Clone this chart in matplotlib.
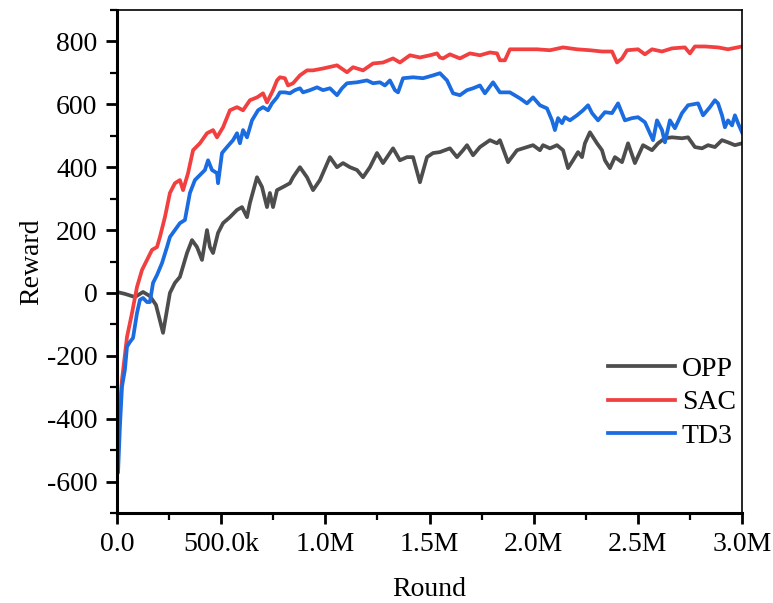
import numpy as np
import matplotlib
matplotlib.use("Agg")
import matplotlib.pyplot as plt
from matplotlib.ticker import MultipleLocator, FixedLocator, FixedFormatter

# ---- data (x in thousands of rounds, y = reward) ----
opp_x = [0, 38, 86, 125, 158, 187, 221, 254, 278, 302, 336, 360, 384, 408, 432, 446, 461, 485, 509,
         542, 576, 600, 624, 638, 672, 696, 720, 734, 749, 768, 797, 830, 845, 878, 912, 941, 974,
         1022, 1056, 1085, 1118, 1152, 1181, 1214, 1248, 1277, 1325, 1358, 1392, 1421, 1454, 1488,
         1517, 1550, 1598, 1632, 1661, 1680, 1709, 1742, 1790, 1824, 1838, 1877, 1920, 1968, 1997,
         2030, 2045, 2078, 2112, 2141, 2165, 2189, 2213, 2232, 2246, 2270, 2304, 2328, 2342, 2366,
         2390, 2424, 2453, 2486, 2525, 2568, 2597, 2630, 2664, 2712, 2741, 2774, 2808, 2837, 2870,
         2904, 2933, 2966, 3000]
opp_y = [3, -3, -13, 3, -10, -38, -127, 0, 32, 51, 127, 168, 146, 105, 200, 146, 127, 191, 222,
         241, 264, 273, 241, 286, 368, 337, 273, 318, 273, 327, 337, 349, 368, 400, 368, 327, 359,
         432, 400, 413, 400, 391, 368, 400, 445, 413, 460, 422, 432, 432, 352, 432,
         445, 448, 460, 432, 454, 470, 438, 464, 486, 476, 486, 416, 454, 464, 470,
         454, 470, 460, 470, 454, 397, 422, 448, 432, 476, 511, 476, 454, 422, 397,
         432, 416, 476, 413, 470, 454, 476, 492, 495, 492, 495, 464, 460, 470, 464,
         486, 479, 470, 476]

sac_x = [0, 5, 24, 48, 72, 96, 120, 144, 168, 192, 206, 230, 254, 278, 302, 317, 341, 365, 398,
         432, 461, 480, 509, 542, 576, 605, 638, 672, 701, 720, 749, 768, 782, 806, 821, 845, 878,
         912, 941, 989, 1056, 1104, 1133, 1181, 1229, 1277, 1325, 1358, 1406, 1454, 1502, 1536,
         1550, 1565, 1598, 1646, 1694, 1742, 1790, 1824, 1838, 1862, 1886, 1949, 2016, 2078, 2141,
         2208, 2270, 2328, 2376, 2400, 2424, 2448, 2501, 2534, 2568, 2616, 2664, 2726, 2750, 2774,
         2822, 2885, 2933, 3000]
sac_y = [-560, -435, -276, -140, -64, 19, 73, 105, 137, 146, 178, 241, 318, 349, 359, 327, 381,
         454, 476, 508, 518, 495, 527, 581, 591, 581, 613, 622, 635, 606, 645, 676, 686, 683, 660,
         667, 692, 708, 708, 714, 724, 702, 718, 708, 730, 733, 746, 733, 756, 749, 756, 762,
         749, 746, 759, 746, 762, 756, 765, 762, 740, 740, 775, 775, 775, 772, 781,
         775, 772, 768, 768, 733, 746, 772, 775, 759, 775, 768, 778, 781, 762, 784,
         784, 781, 775, 784]

td3_x = [0, 5, 14, 24, 38, 48, 62, 77, 96, 110, 125, 144, 158, 173, 192, 216, 240, 254, 278, 302,
         326, 350, 374, 398, 422, 437, 456, 480, 485, 504, 528, 557, 576, 590, 605, 624, 648, 677,
         701, 725, 744, 768, 782, 806, 830, 854, 878, 893, 926, 960, 989, 1022, 1056, 1080, 1104,
         1152, 1200, 1229, 1262, 1286, 1310, 1334, 1349, 1373, 1421, 1469, 1517, 1550, 1584, 1613,
         1646, 1680, 1709, 1742, 1766, 1805, 1838, 1886, 1934, 1968, 1997, 2030, 2064, 2088, 2102,
         2117, 2136, 2150, 2174, 2208, 2237, 2261, 2280, 2309, 2342, 2376, 2405, 2438, 2472, 2501,
         2534, 2558, 2573, 2592, 2616, 2630, 2654, 2678, 2712, 2741, 2789, 2813, 2846, 2870, 2885,
         2904, 2918, 2933, 2952, 2966, 2981, 3000]
td3_y = [-565, -572, -425, -298, -244, -171, -156, -143, -64, -22, -16, -29, -29, 32, 57, 95, 146,
         178, 200, 222, 232, 318, 359, 375, 391, 422, 391, 381, 349, 445, 464, 486, 508, 476, 518,
         495, 549, 581, 591, 581, 603, 622, 638, 638, 635, 645, 651, 638, 645, 654, 645, 651, 629,
         651, 667, 670, 676, 667, 670, 660, 676, 645, 638, 683, 686, 683, 692, 699, 676, 635,
         629, 645, 651, 660, 635, 670, 638, 638, 619, 603, 622, 597, 587, 549, 518,
         556, 540, 559, 549, 565, 581, 597, 572, 549, 575, 572, 603, 549, 556, 559,
         543, 508, 486, 549, 518, 479, 549, 524, 572, 597, 603, 565, 591, 613, 603,
         565, 527, 549, 533, 565, 540, 511]

series_names = ["OPP", "SAC", "TD3"]
y_ticks = [-600, -400, -200, 0, 200, 400, 600, 800]
y_tick_labels = ["-600", "-400", "-200", "0", "200", "400", "600", "800"]
x_ticks_k = [0, 500, 1000, 1500, 2000, 2500, 3000]
x_tick_labels = ["0.0", "500.0k", "1.0M", "1.5M", "2.0M", "2.5M", "3.0M"]

# ---- style ----
plt.rcParams['font.family'] = ['Liberation Serif', 'DejaVu Serif']

fig = plt.figure(figsize=(7.73, 6.03), dpi=100)
ax = fig.add_axes([117 / 773, 1 - 513 / 603, 625 / 773, 503 / 603])

colors = ["#4d4d4d", "#f23f3f", "#1a6ce0"]
for xs, ys, name, c in zip([opp_x, sac_x, td3_x], [opp_y, sac_y, td3_y], series_names, colors):
    ax.plot(np.array(xs) * 1000, ys, color=c, lw=2.7, label=name, solid_joinstyle='round')

ax.set_xlim(0, 3.0e6)
ax.set_ylim(-700, 900)

ax.xaxis.set_major_locator(FixedLocator([v * 1000 for v in x_ticks_k]))
ax.xaxis.set_major_formatter(FixedFormatter(x_tick_labels))
ax.xaxis.set_minor_locator(MultipleLocator(250000))
ax.yaxis.set_major_locator(FixedLocator(y_ticks))
ax.yaxis.set_major_formatter(FixedFormatter(y_tick_labels))
ax.yaxis.set_minor_locator(MultipleLocator(100))

ax.tick_params(which='major', direction='out', length=8, width=2, labelsize=20, pad=6)
ax.tick_params(which='minor', direction='out', length=5, width=1.6)
ax.tick_params(top=False, right=False)

for s in ['left', 'bottom']:
    ax.spines[s].set_linewidth(2.2)
for s in ['top', 'right']:
    ax.spines[s].set_linewidth(1.2)

ax.set_xlabel("Round", fontsize=20, labelpad=14)
ax.set_ylabel("Reward", fontsize=20, labelpad=2)

ax.legend(loc='upper left', bbox_to_anchor=(0.786, 0.312), frameon=False, fontsize=20,
          handlelength=2.4, handletextpad=0.25, labelspacing=0.3, borderpad=0, borderaxespad=0)

fig.savefig("out.png", dpi=100)
